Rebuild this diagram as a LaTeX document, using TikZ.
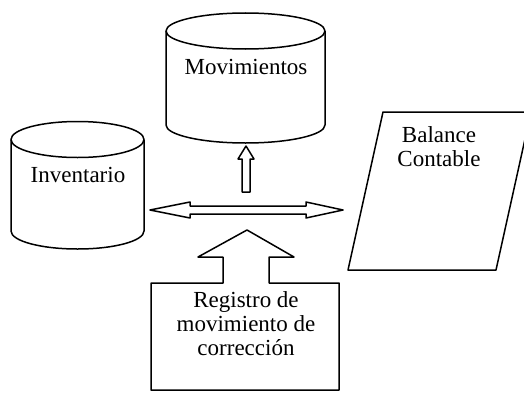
\documentclass[tikz,border=0pt]{standalone}
\usepackage{fontspec}
\setmainfont{Liberation Serif}
\begin{document}
\begin{tikzpicture}[x=1pt,y=1pt,line width=1.5pt,line join=round,
		lbl/.style={font=\fontsize{23}{24}\selectfont,align=center,inner sep=0pt}]
			\clip (0,0) rectangle (524,392);
			% Movimientos
			\draw (245.5,361) ellipse [x radius=79.5,y radius=18];
			\draw (166,361) -- (166,267) arc [start angle=180,end angle=360,x radius=79.5,y radius=18] -- (325,361);
			\node[lbl] (mov) at (246,325) {Movimientos};
			% Inventario
			\draw (77.5,252.5) ellipse [x radius=66.5,y radius=18];
			\draw (11,252.5) -- (11,161) arc [start angle=180,end angle=360,x radius=66.5,y radius=18] -- (144,252.5);
			\node[lbl] (inv) at (78,217) {Inventario};
			% Balance
			\draw (383,280) -- (531,280) -- (496,122) -- (348,122) -- cycle;
			\node[lbl] (bal) at (439,245) {Balance\\Contable};
			% flechas
			\draw (150,182) -- (190,190) -- (190,186) -- (306,186) -- (306,190) -- (343,182)
				-- (306,174) -- (306,178) -- (190,178) -- (190,174) -- cycle;
			\draw (246,246) -- (254,233) -- (250,233) -- (250,200) -- (242,200) -- (242,233) -- (238,233) -- cycle;
			% Registro
			\draw (151,2) -- (151,109) -- (223,109) -- (223,135) -- (198,135) -- (247,162)
				-- (294,135) -- (269,135) -- (269,109) -- (339,109) -- (339,2) -- cycle;
			\node[lbl] (reg) at (246,68) {Registro de\\movimiento de\\corrección};
		\end{tikzpicture}
\end{document}
